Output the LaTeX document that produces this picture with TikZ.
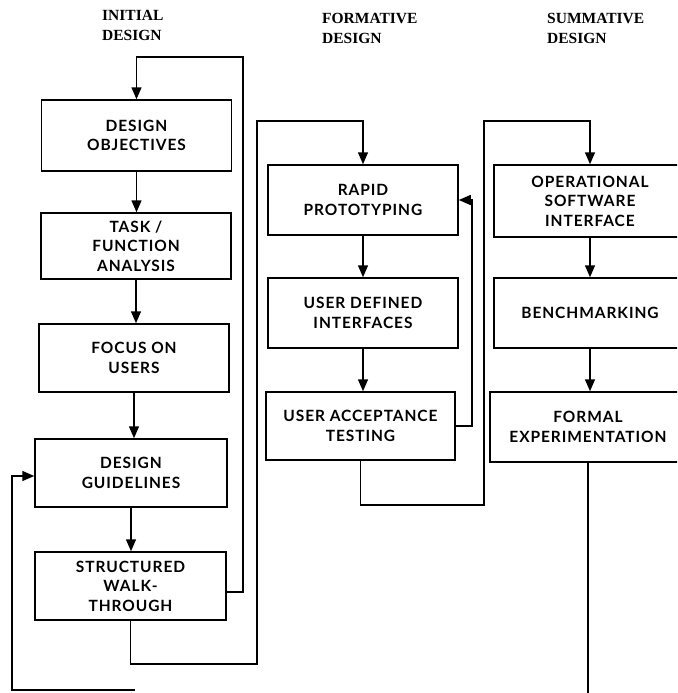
\documentclass[tikz,border=0pt]{standalone}
\usepackage{fontspec}
\setmainfont{Lato}[LetterSpace=6]
\newfontfamily\hdrfont{Liberation Serif}
\usetikzlibrary{arrows.meta}
\tikzset{
  blk/.style={draw, line width=1.5pt, align=center, minimum width=190pt,
    minimum height=68pt, inner sep=0pt,
    font=\bfseries\fontsize{15.5}{19.5}\selectfont},
  hdr/.style={anchor=north west, inner sep=0pt, align=left,
    font=\hdrfont\bfseries\fontsize{15.5}{20}\selectfont},
  conn/.style={line width=1.5pt},
  arr/.style={conn, -{Triangle[length=12pt,width=10pt]}}
}
\begin{document}
\begin{tikzpicture}[x=1pt,y=-1pt]
\useasboundingbox (0,0) rectangle (677,693);
\clip (0,0) rectangle (677,693);
% headers
\node[hdr] (h1) at (102,10) {INITIAL\\DESIGN};
\node[hdr] (h2) at (322,13) {FORMATIVE\\DESIGN};
\node[hdr] (h3) at (547,13) {SUMMATIVE\\DESIGN};
% left column
\node[blk, minimum height=71pt] (do) at (136.5,135.5) {DESIGN\\OBJECTIVES};
\node[blk, minimum height=66pt] (tfa) at (136,246) {TASK /\\FUNCTION\\ANALYSIS};
\node[blk] (fou) at (134,358) {FOCUS ON\\USERS};
\node[blk, minimum width=192pt] (dg) at (131,473) {DESIGN\\GUIDELINES};
\node[blk, minimum width=191pt] (sw) at (130.5,586) {STRUCTURED\\WALK-\\THROUGH};
% middle column
\node[blk, minimum height=70pt] (rp) at (363,200) {RAPID\\PROTOTYPING};
\node[blk, minimum height=70pt] (udi) at (363,313) {USER DEFINED\\INTERFACES};
\node[blk, minimum width=189pt] (uat) at (360.5,426) {USER ACCEPTANCE\\TESTING};
% right column
\node[blk, minimum width=192pt, minimum height=72pt] (osi) at (590,201) {OPERATIONAL\\SOFTWARE\\INTERFACE};
\node[blk, minimum width=192pt, minimum height=70pt] (bm) at (590,313) {BENCHMARKING};
\node[blk, minimum width=196pt, minimum height=70pt] (fe) at (588,427) {FORMAL\\EXPERIMENTATION};
% coordinates
\coordinate (c1) at (243,57);
\coordinate (c2) at (257,664);
\coordinate (c3) at (257,121);
\coordinate (c4) at (472,200);
\coordinate (c5) at (484,505);
\coordinate (c6) at (484,121);
\coordinate (e1) at (588,700);
\coordinate (e2) at (135,690);
\coordinate (c7) at (12,690);
% column arrows
\draw[arr] (do.south) -- (do.south |- tfa.north);
\draw[arr] (tfa.south) -- (tfa.south |- fou.north);
\draw[arr] (fou.south) -- (fou.south |- dg.north);
\draw[arr] (dg.south) -- (dg.south |- sw.north);
\draw[arr] (rp.south) -- (rp.south |- udi.north);
\draw[arr] (udi.south) -- (udi.south |- uat.north);
\draw[arr] (osi.south) -- (osi.south |- bm.north);
\draw[arr] (bm.south) -- (bm.south |- fe.north);
% loops
\draw[arr] ([yshift=-6pt]sw.east) -| (c1) -| (do.north);
\draw[arr] (sw.south) |- (c2) -- (c3) -| (rp.north);
\draw[arr] (uat.east) -| (c4) -- (rp.east);
\draw[arr] (uat.south) |- (c5) -- (c6) -| (osi.north);
\draw[conn] (fe.south) -- (e1);
\draw[arr] (e2) -- (c7) |- ([yshift=-3pt]dg.west);
\end{tikzpicture}
\end{document}
